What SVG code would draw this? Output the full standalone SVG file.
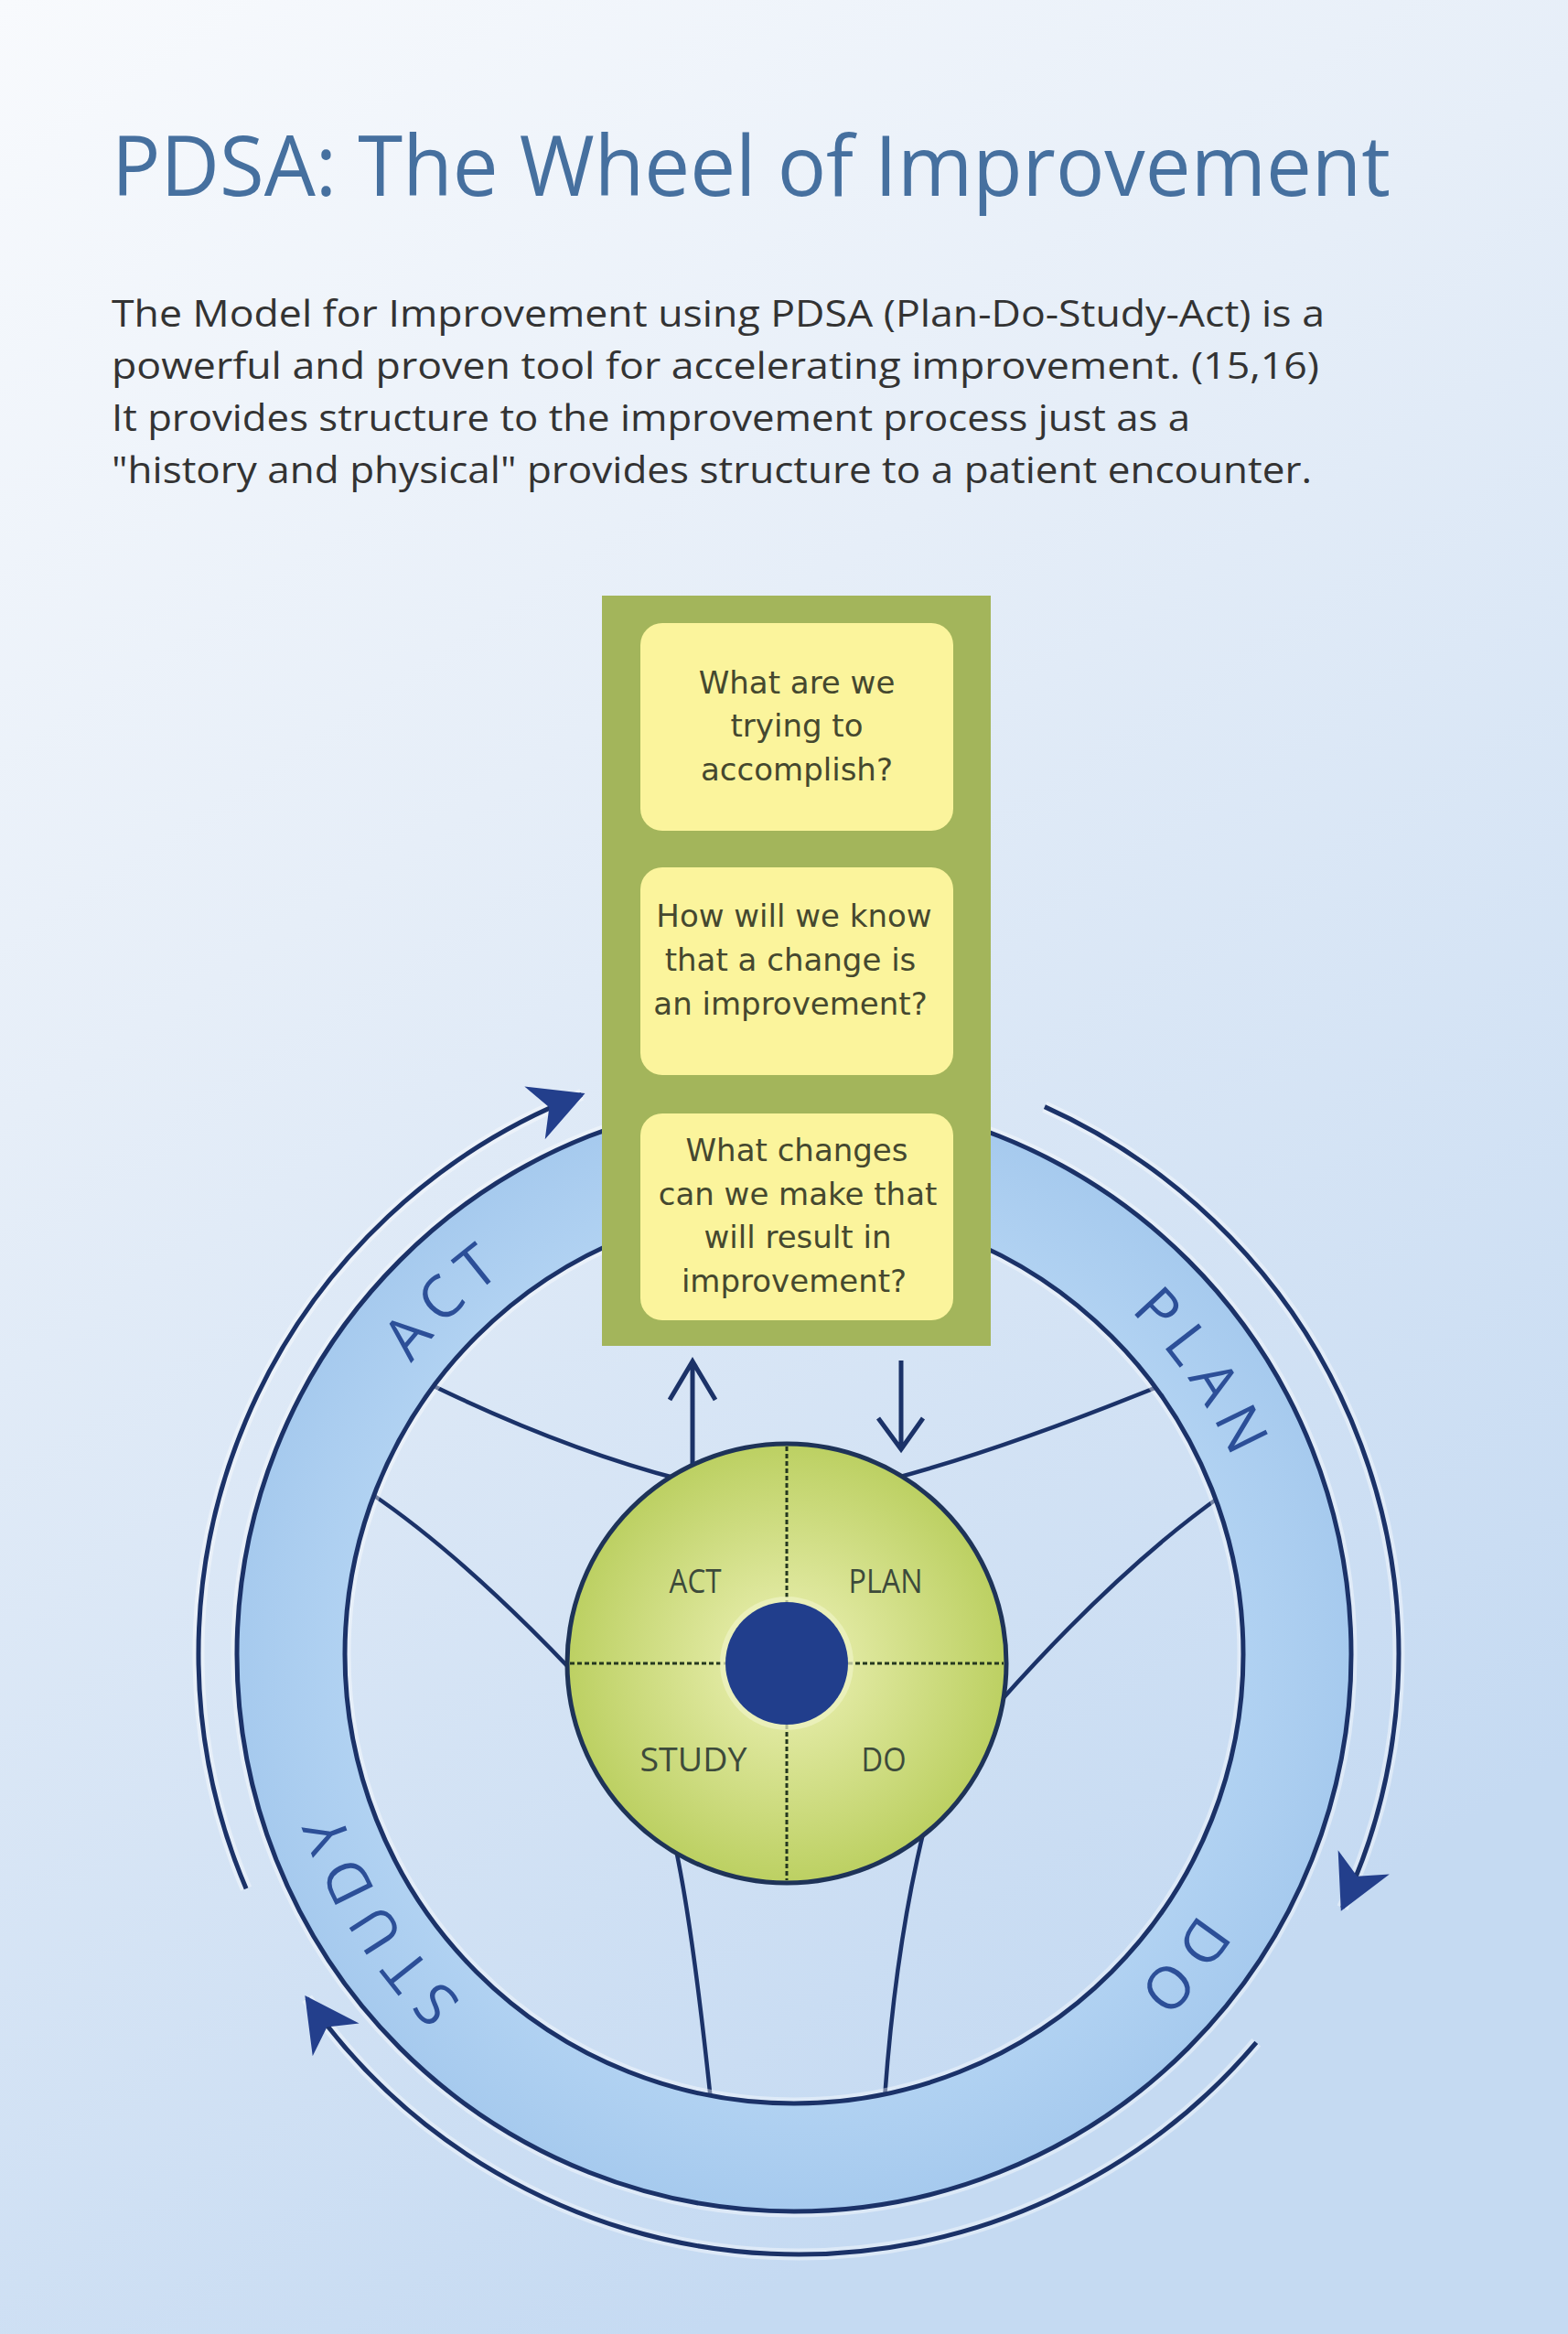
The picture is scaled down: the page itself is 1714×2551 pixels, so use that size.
<svg xmlns="http://www.w3.org/2000/svg" width="1714" height="2551" viewBox="0 0 1714 2551">
<defs>
<style>
.title{font-family:"Open Sans","Liberation Sans",sans-serif;font-size:92px;fill:#46709f}
.body{font-family:"Open Sans","Liberation Sans",sans-serif;font-size:40px;fill:#333333}
.q{font-family:"DejaVu Sans","Liberation Sans",sans-serif;font-size:34px;fill:#45482f;text-anchor:middle}
.hubt{font-family:"Open Sans","Liberation Sans",sans-serif;font-size:36px;fill:#3d4a3b;text-anchor:middle}
.bandt{font-family:"Open Sans","Liberation Sans",sans-serif;font-size:64px;fill:#2c4f98;letter-spacing:12px;text-anchor:middle}
.ln{fill:none;stroke:#1b3268;stroke-width:5}
.halo{fill:none;stroke:#ffffff;stroke-opacity:0.4;stroke-width:13}
.spoke{fill:none;stroke:#1b3268;stroke-width:4.5}
.dash{stroke:#25381f;stroke-width:3;stroke-dasharray:5 3}
.yb{fill:#fbf49c}
</style>
<linearGradient id="bg" x1="0" y1="0" x2="0.45" y2="1">
<stop offset="0" stop-color="#f8fafd"/>
<stop offset="0.4" stop-color="#e6eef8"/>
<stop offset="1" stop-color="#c5daf2"/>
</linearGradient>
<radialGradient id="bandG" gradientUnits="userSpaceOnUse" cx="868" cy="1808" r="609">
<stop offset="0.8" stop-color="#b1d2f2"/>
<stop offset="1" stop-color="#a6caee"/>
</radialGradient>
<radialGradient id="hubG" cx="0.5" cy="0.5" r="0.5">
<stop offset="0" stop-color="#eef2b8"/>
<stop offset="1" stop-color="#bcd062"/>
</radialGradient>
<marker id="ah" viewBox="-60 -35 70 70" refX="0" refY="0" markerWidth="70" markerHeight="70" markerUnits="userSpaceOnUse" orient="auto" overflow="visible">
<path d="M4,0 L-55,-31 L-38,0 L-55,31 Z" fill="#233f8c"/>
</marker>
<path id="bandPath" d="M343,1808 A525,525 0 1,1 1393,1808 A525,525 0 1,1 343,1808"/>
</defs>

<rect x="0" y="0" width="1714" height="2551" fill="url(#bg)"/>

<g id="title">
<text class="title" x="122" y="214" textLength="1398" lengthAdjust="spacingAndGlyphs">PDSA: The Wheel of Improvement</text>
</g>

<g id="intro">
<text class="body" x="122" y="357" textLength="1326" lengthAdjust="spacingAndGlyphs">The Model for Improvement using PDSA (Plan-Do-Study-Act) is a</text>
<text class="body" x="122" y="414" textLength="1320" lengthAdjust="spacingAndGlyphs">powerful and proven tool for accelerating improvement. (15,16)</text>
<text class="body" x="122" y="471" textLength="1179" lengthAdjust="spacingAndGlyphs">It provides structure to the improvement process just as a</text>
<text class="body" x="122" y="528" textLength="1312" lengthAdjust="spacingAndGlyphs">"history and physical" provides structure to a patient encounter.</text>
</g>

<g id="spokes">
<path class="spoke" d="M468,1512 Q616,1584 744,1617"/>
<path class="spoke" d="M405,1632 Q504,1699 625,1826"/>
<path class="spoke" d="M1272,1513 Q1098,1584 973,1617"/>
<path class="spoke" d="M1336,1634 Q1223,1714 1093,1860"/>
<path class="spoke" d="M738,2017 Q757,2105 777,2296"/>
<path class="spoke" d="M1011,1996 Q979,2125 967,2294"/>
</g>

<g id="band">
<circle cx="868" cy="1808" r="609" class="halo"/>
<circle cx="868" cy="1808" r="491" class="halo"/>
<circle cx="868" cy="1808" r="550" fill="none" stroke="url(#bandG)" stroke-width="118"/>
<circle cx="868" cy="1808" r="609" class="ln"/>
<circle cx="868" cy="1808" r="491" class="ln"/>
<text class="bandt"><textPath href="#bandPath" startOffset="417">ACT</textPath></text>
<text class="bandt"><textPath href="#bandPath" startOffset="1336">PLAN</textPath></text>
<text class="bandt"><textPath href="#bandPath" startOffset="2008">DO</textPath></text>
<text class="bandt"><textPath href="#bandPath" startOffset="3005">STUDY</textPath></text>
</g>

<g id="hub">
<circle cx="860" cy="1818" r="240" fill="url(#hubG)" stroke="#1e3358" stroke-width="5"/>
<line class="dash" x1="623" y1="1818" x2="1097" y2="1818"/>
<line class="dash" x1="860" y1="1581" x2="860" y2="2055"/>
<circle cx="860" cy="1818" r="73" fill="#eef3c4" fill-opacity="0.7"/>
<circle cx="860" cy="1818" r="67" fill="#213e8c"/>
<text class="hubt" x="760" y="1741" textLength="57" lengthAdjust="spacingAndGlyphs">ACT</text>
<text class="hubt" x="968" y="1741" textLength="81" lengthAdjust="spacingAndGlyphs">PLAN</text>
<text class="hubt" x="758" y="1936" textLength="117" lengthAdjust="spacingAndGlyphs">STUDY</text>
<text class="hubt" x="966" y="1936" textLength="49" lengthAdjust="spacingAndGlyphs">DO</text>
</g>

<g id="questions">
<rect x="658" y="651" width="425" height="820" fill="#a3b55b"/>
<g id="q1">
<rect class="yb" x="700" y="681" width="342" height="227" rx="24"/>
<text class="q" x="871" y="758">What are we</text>
<text class="q" x="871" y="805">trying to</text>
<text class="q" x="871" y="853">accomplish?</text>
</g>
<g id="q2">
<rect class="yb" x="700" y="948" width="342" height="227" rx="24"/>
<text class="q" x="868" y="1013">How will we know</text>
<text class="q" x="864" y="1061">that a change is</text>
<text class="q" x="864" y="1109">an improvement?</text>
</g>
<g id="q3">
<rect class="yb" x="700" y="1217" width="342" height="226" rx="24"/>
<text class="q" x="871" y="1269">What changes</text>
<text class="q" x="872" y="1317">can we make that</text>
<text class="q" x="872" y="1364">will result in</text>
<text class="q" x="868" y="1412">improvement?</text>
</g>
</g>

<g id="connectors">
<path class="halo" d="M269.1,2064.3 A656,656 0 0,1 635.8,1196.4"/>
<path class="halo" d="M1141.9,1209.6 A656,656 0 0,1 1467.5,2085.2"/>
<path class="halo" d="M1373.3,2232.3 A656,656 0 0,1 335.6,2184.3"/>
<path class="ln" d="M269.1,2064.3 A656,656 0 0,1 635.8,1196.4" marker-end="url(#ah)"/>
<path class="ln" d="M1141.9,1209.6 A656,656 0 0,1 1467.5,2085.2" marker-end="url(#ah)"/>
<path class="ln" d="M1373.3,2232.3 A656,656 0 0,1 335.6,2184.3" marker-end="url(#ah)"/>
<path class="ln" d="M757,1600 V1490 M732,1530 L757,1488 L782,1530" stroke-linejoin="miter"/>
<path class="ln" d="M985,1487 V1582 M960,1550 L985,1584 L1009,1550" stroke-linejoin="miter"/>
</g>
</svg>
